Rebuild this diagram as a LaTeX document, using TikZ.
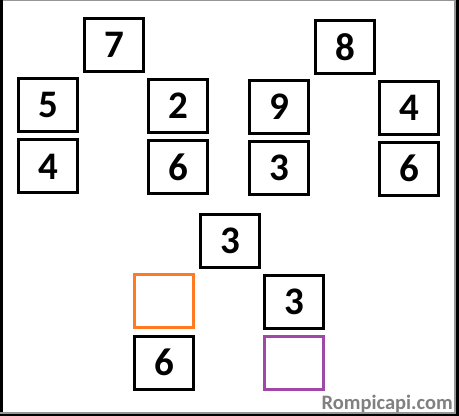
\documentclass[tikz,border=0pt]{standalone}
\usepackage{fontspec}
\setmainfont{Carlito}
\usetikzlibrary{positioning}
\definecolor{kante}{RGB}{0,0,0}
\definecolor{orange}{RGB}{255,122,32}
\definecolor{lila}{RGB}{160,72,168}
\definecolor{schrift}{RGB}{128,128,128}
\definecolor{schatten}{RGB}{150,150,150}

\begin{document}
\begin{tikzpicture}[x=1pt, y=-1pt,
    feld/.style={draw=kante, line width=3pt, minimum width=59pt, minimum height=53pt,
                 inner sep=0pt, font=\bfseries\fontsize{39}{39}\selectfont},
    leer/.style={feld, draw=#1}]

    \useasboundingbox (0,0) rectangle (459,416);

    % Rahmen
    \fill[white] (0,0) rectangle (459,416);
    \fill[schatten] (0,0) rectangle (459,1);
    \fill[black] (0,0) rectangle (2.5,416);
    \fill[schatten] (454,0) rectangle (456,416);
    \fill[black] (456,0) rectangle (459,416);
    \fill[schatten] (0,412) rectangle (456,414);
    \fill[black] (0,414) rectangle (459,416);

    % erste Gruppe
    \node[feld] (a0) at (114,44.8) {7};
    \node[feld] (a1) at (48.3,105) {5};
    \node[feld] (a2) at (48.3,166.4) {4};
    \node[feld] (a3) at (178,105.5) {2};
    \node[feld] (a4) at (178,167.3) {6};

    % zweite Gruppe
    \node[feld] (b0) at (345,46.7) {8};
    \node[feld] (b1) at (279.3,107) {9};
    \node[feld] (b2) at (279.3,168) {3};
    \node[feld] (b3) at (409.3,107.7) {4};
    \node[feld] (b4) at (409.3,168.7) {6};

    % dritte Gruppe
    \node[feld] (c0) at (230,241) {3};
    \node[leer=orange] (c1) at (164,301) {};
    \node[feld] (c2) at (164,362.7) {6};
    \node[feld] (c3) at (294,301.7) {3};
    \node[leer=lila] (c4) at (294,363.3) {};

    \node[anchor=base east, inner sep=0pt, text=schrift,
          font=\bfseries\fontsize{20.5}{20.5}\selectfont] (marke) at (453,409) {Rompicapi.com};

\end{tikzpicture}
\end{document}
